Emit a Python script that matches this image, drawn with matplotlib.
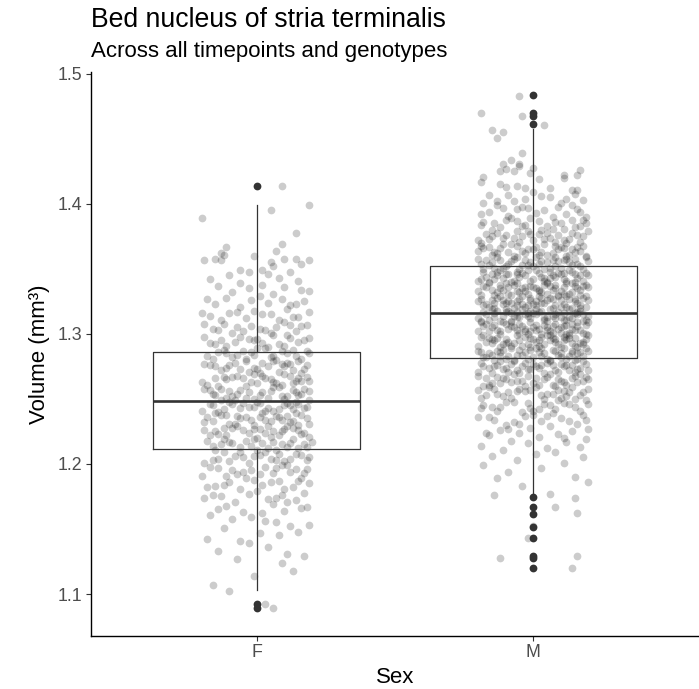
import matplotlib.pyplot as plt
import numpy as np

plt.rcParams['font.family'] = ['Liberation Sans', 'DejaVu Sans']

sexes = ['F', 'M']

# box statistics (mm^3)
q1 = [1.2114, 1.2815]
med = [1.2484, 1.3165]
q3 = [1.2865, 1.3520]
whislo = [1.1027, 1.1765]
whishi = [1.3990, 1.4575]
outliers_f = [1.4141, 1.0923, 1.0894]
outliers_m = [1.4835, 1.4701, 1.4678, 1.4614, 1.1744, 1.1670, 1.1618,
              1.1516, 1.1434, 1.1295, 1.1280, 1.1202]

# jittered points: (x offset in hundredths, volume in thousandths of mm^3)
f_points = [
    (3, 1092), (6, 1089), (-16, 1107), (-10, 1102), (-1, 1114), (13, 1118),
    (9, 1124), (-7, 1127), (17, 1129), (-14, 1133), (4, 1136), (11, 1131), (-3, 1139),
    (-18, 1142), (8, 1145), (15, 1148), (-6, 1141), (1, 1147),
    (-12, 1151), (19, 1153), (3, 1156), (-9, 1158), (12, 1152), (-2, 1159), (7, 1155),
    (-17, 1161), (-5, 1163), (10, 1164), (16, 1166), (-11, 1168), (2, 1162), (6, 1169), (-14, 1165), (18, 1167),
    (-8, 1171), (14, 1172), (-19, 1174), (4, 1173), (9, 1176), (-3, 1177), (17, 1178), (-13, 1175), (0, 1179),
    (11, 1171), (-16, 1176), (7, 1174),
    (-6, 1181), (13, 1182), (-15, 1183), (2, 1184), (19, 1185), (-10, 1186), (8, 1187), (-1, 1188), (16, 1189),
    (-18, 1182), (5, 1186), (-12, 1184), (10, 1181), (-4, 1189), (15, 1187),
    (-20, 1191), (-7, 1192), (6, 1193), (12, 1194), (-2, 1195), (18, 1196), (-14, 1197), (3, 1198), (9, 1199),
    (-11, 1191), (-5, 1194), (14, 1196), (1, 1192), (-17, 1198), (7, 1197), (-9, 1195), (17, 1193), (11, 1199),
    (-3, 1201), (10, 1202), (-16, 1203), (5, 1204), (19, 1205), (-8, 1206), (1, 1207), (14, 1208), (-12, 1209),
    (-19, 1201), (7, 1203), (-5, 1205), (16, 1207), (3, 1209), (-10, 1202), (12, 1204), (-1, 1206), (8, 1208),
    (-14, 1204), (18, 1203), (-6, 1209),
    (-15, 1211), (4, 1212), (11, 1213), (-2, 1214), (17, 1215), (-9, 1216), (6, 1217), (-18, 1218), (13, 1219),
    (0, 1211), (-6, 1213), (9, 1215), (20, 1217), (-12, 1219), (2, 1216), (15, 1212), (-4, 1218), (-16, 1214),
    (7, 1211), (-10, 1217), (12, 1216), (-1, 1219), (18, 1213), (-13, 1215),
    (5, 1221), (-11, 1222), (16, 1223), (-3, 1224), (9, 1225), (-19, 1226), (1, 1227), (13, 1228), (-7, 1229),
    (19, 1221), (-14, 1223), (6, 1225), (-1, 1227), (11, 1229), (-17, 1222), (3, 1224), (15, 1226), (-9, 1228),
    (8, 1222), (-5, 1226), (17, 1224), (-12, 1228), (0, 1220), (10, 1227), (-15, 1225), (4, 1229),
    (-8, 1231), (12, 1232), (-16, 1233), (3, 1234), (18, 1235), (-4, 1236), (7, 1237), (-13, 1238), (14, 1239),
    (-1, 1230), (-19, 1232), (9, 1234), (1, 1236), (16, 1238), (-10, 1231), (5, 1233), (-6, 1235), (11, 1237),
    (-15, 1239), (19, 1231), (-2, 1234), (8, 1236), (-11, 1238), (13, 1233), (-18, 1236), (2, 1239), (15, 1230),
    (-7, 1237),
    (6, 1241), (-12, 1242), (17, 1243), (-3, 1244), (10, 1245), (-17, 1246), (1, 1247), (14, 1248), (-8, 1249),
    (-20, 1241), (4, 1243), (12, 1245), (-5, 1247), (19, 1249), (-14, 1240), (8, 1242), (-1, 1244), (15, 1246),
    (-10, 1248), (3, 1241), (-16, 1245), (11, 1247), (-6, 1243), (18, 1244), (-9, 1246), (0, 1248), (13, 1242),
    (-13, 1249),
    (-4, 1251), (9, 1252), (-15, 1253), (16, 1254), (2, 1255), (-10, 1256), (13, 1257), (-19, 1258), (6, 1259),
    (-1, 1250), (11, 1252), (-7, 1254), (19, 1256), (-13, 1258), (4, 1251), (15, 1253), (-3, 1255), (-17, 1257),
    (8, 1259), (1, 1253), (-11, 1251), (14, 1255), (-6, 1257), (10, 1250), (-16, 1254), (17, 1258), (-9, 1252),
    (5, 1256),
    (-18, 1261), (7, 1262), (-2, 1263), (14, 1264), (-11, 1265), (3, 1266), (18, 1267), (-7, 1268), (10, 1269),
    (-14, 1260), (0, 1262), (16, 1264), (-5, 1266), (12, 1268), (-20, 1263), (5, 1265), (-9, 1267), (9, 1261),
    (-1, 1269), (19, 1264), (-15, 1266), (2, 1268), (13, 1262), (-12, 1267), (6, 1263), (-4, 1260), (15, 1266),
    (8, 1271), (-13, 1272), (17, 1273), (-1, 1274), (4, 1275), (-17, 1276), (12, 1277), (-8, 1278), (15, 1279),
    (1, 1270), (-6, 1273), (10, 1275), (-19, 1277), (6, 1279), (-3, 1271), (18, 1276), (-11, 1274), (2, 1278),
    (13, 1272), (-15, 1275), (9, 1277), (-4, 1279), (16, 1270), (-10, 1276), (0, 1273), (11, 1278),
    (-16, 1281), (5, 1282), (14, 1283), (-7, 1284), (19, 1285), (-2, 1286), (9, 1287), (-12, 1288), (3, 1289),
    (-18, 1283), (11, 1285), (-5, 1287), (16, 1281), (0, 1289), (-14, 1286), (7, 1280), (-9, 1282), (13, 1288),
    (-1, 1284), (18, 1287), (-11, 1285), (6, 1283), (-4, 1281),
    (10, 1291), (-15, 1292), (2, 1293), (-8, 1294), (17, 1295), (-3, 1296), (12, 1297), (-19, 1298), (6, 1299),
    (-11, 1291), (15, 1294), (0, 1296), (-6, 1298), (8, 1292), (-13, 1295), (19, 1297), (4, 1290), (-17, 1293),
    (11, 1299), (-1, 1295),
    (-9, 1301), (14, 1302), (3, 1303), (-16, 1304), (7, 1305), (-2, 1306), (18, 1307), (-12, 1308), (10, 1309),
    (-5, 1302), (1, 1304), (16, 1306), (-19, 1308), (5, 1301), (-7, 1305), (12, 1307), (-14, 1303),
    (8, 1311), (-4, 1312), (15, 1313), (-17, 1314), (2, 1315), (-10, 1316), (19, 1317), (-1, 1318), (11, 1319),
    (-13, 1311), (5, 1315), (-7, 1317), (13, 1313), (-20, 1316),
    (-6, 1321), (12, 1322), (-15, 1323), (4, 1324), (17, 1325), (-2, 1326), (9, 1327), (-11, 1328), (1, 1329),
    (14, 1323), (-18, 1327),
    (6, 1331), (-9, 1332), (16, 1334), (-3, 1335), (10, 1336), (-14, 1337), (2, 1338), (19, 1333), (-6, 1339),
    (-6, 1349), (-3, 1348), (2, 1349), (12, 1348), (-17, 1342), (8, 1343), (-10, 1345), (15, 1341), (4, 1346),
    (-15, 1358), (-19, 1357), (-13, 1357), (-1, 1360), (5, 1355), (6, 1352), (10, 1358), (14, 1358), (19, 1357),
    (16, 1354),
    (-11, 1367), (9, 1369), (7, 1364), (-13, 1362), (-12, 1361),
    (14, 1378), (-20, 1389), (5, 1395), (19, 1399), (9, 1414),
]

m_points = [
    (14, 1120), (-12, 1128), (16, 1129), (-2, 1143), (0, 1152), (16, 1162), (8, 1167),
    (15, 1174), (-14, 1176), (6, 1177), (20, 1186), (-13, 1189), (-4, 1183),
    (15, 1190), (-9, 1194), (3, 1197), (-18, 1199),
    (11, 1201), (-6, 1203), (18, 1205), (-15, 1206), (1, 1208), (8, 1209),
    (-11, 1211), (5, 1212), (17, 1213), (-19, 1214), (-2, 1216), (12, 1217), (-8, 1218), (19, 1219),
    (2, 1221), (-16, 1222), (9, 1223), (-5, 1224), (14, 1225), (-12, 1226), (20, 1227), (-1, 1228), (6, 1229),
    (-17, 1224), (11, 1220), (-9, 1227),
    (16, 1231), (-7, 1232), (3, 1233), (-14, 1234), (10, 1235), (-20, 1236), (-3, 1237), (18, 1238), (7, 1239),
    (-10, 1230), (13, 1233), (-16, 1236), (0, 1238), (19, 1234), (-5, 1231), (5, 1237),
    (-13, 1241), (8, 1242), (-1, 1243), (15, 1244), (-18, 1245), (4, 1246), (11, 1247), (-7, 1248), (19, 1249),
    (-4, 1240), (2, 1242), (-15, 1244), (13, 1246), (-10, 1248), (17, 1241), (-19, 1243), (6, 1245), (-2, 1247),
    (9, 1249), (-12, 1244), (20, 1246), (0, 1241),
    (-8, 1251), (12, 1252), (-17, 1253), (5, 1254), (18, 1255), (-3, 1256), (9, 1257), (-14, 1258), (1, 1259),
    (15, 1250), (-11, 1252), (7, 1254), (-6, 1256), (20, 1258), (-19, 1251), (3, 1253), (13, 1255), (-1, 1257),
    (-16, 1259), (10, 1251), (-9, 1255), (17, 1253), (-5, 1258), (4, 1250), (-13, 1254), (11, 1256), (-20, 1257),
    (14, 1259),
    (2, 1261), (-15, 1262), (16, 1263), (-6, 1264), (9, 1265), (-11, 1266), (19, 1267), (-2, 1268), (6, 1269),
    (-18, 1260), (12, 1261), (-8, 1263), (4, 1265), (-13, 1267), (17, 1269), (0, 1262), (-4, 1264), (14, 1266),
    (-20, 1268), (8, 1260), (-10, 1265), (11, 1263), (-16, 1261), (5, 1267), (18, 1264), (-7, 1269), (1, 1266),
    (-12, 1262), (15, 1268), (-3, 1260), (10, 1264), (-17, 1266), (7, 1261), (20, 1265),
    (-9, 1271), (13, 1272), (-1, 1273), (17, 1274), (-14, 1275), (3, 1276), (10, 1277), (-19, 1278), (6, 1279),
    (-5, 1270), (15, 1271), (-11, 1273), (1, 1275), (19, 1277), (-7, 1279), (8, 1272), (-16, 1274), (12, 1276),
    (-3, 1278), (4, 1270), (-13, 1276), (16, 1273), (-20, 1271), (0, 1277), (11, 1275), (-6, 1272), (18, 1279),
    (-10, 1274), (5, 1278), (-15, 1270), (14, 1276), (-2, 1273), (9, 1271), (-18, 1275), (20, 1272), (-8, 1277),
    (2, 1274), (-12, 1279), (7, 1276), (-4, 1275),
    (12, 1281), (-17, 1282), (3, 1283), (-6, 1284), (16, 1285), (-12, 1286), (8, 1287), (-1, 1288), (19, 1289),
    (-14, 1280), (5, 1281), (-9, 1283), (14, 1285), (-20, 1287), (1, 1289), (10, 1282), (-4, 1284), (17, 1286),
    (-11, 1288), (6, 1280), (-16, 1285), (13, 1283), (-2, 1281), (20, 1287), (-8, 1289), (2, 1286), (-18, 1282),
    (9, 1284), (-5, 1288), (15, 1280), (-13, 1287), (4, 1285), (11, 1289), (-10, 1281), (18, 1283), (-3, 1286),
    (7, 1288), (-15, 1284), (0, 1282), (14, 1287), (-7, 1280), (-19, 1286), (10, 1285), (3, 1289), (-12, 1283),
    (16, 1281),
    (-4, 1291), (9, 1292), (-15, 1293), (18, 1294), (2, 1295), (-10, 1296), (13, 1297), (-19, 1298), (6, 1299),
    (-1, 1290), (15, 1291), (-7, 1293), (11, 1295), (-13, 1297), (20, 1299), (4, 1292), (-17, 1294), (8, 1296),
    (-3, 1298), (16, 1290), (-11, 1292), (1, 1294), (12, 1296), (-20, 1291), (7, 1297), (-6, 1299), (17, 1293),
    (-14, 1295), (3, 1298), (10, 1290), (-9, 1294), (19, 1296), (-2, 1292), (5, 1299), (-16, 1297), (14, 1293),
    (-8, 1291), (0, 1296), (11, 1298), (-12, 1290), (18, 1292), (-5, 1295), (8, 1294), (-18, 1299), (2, 1291),
    (15, 1297), (-10, 1293), (6, 1295), (-1, 1297), (13, 1299), (-15, 1296),
    (7, 1301), (-12, 1302), (17, 1303), (-3, 1304), (10, 1305), (-18, 1306), (1, 1307), (14, 1308), (-8, 1309),
    (19, 1300), (-5, 1301), (5, 1303), (-15, 1305), (12, 1307), (-1, 1309), (-20, 1302), (9, 1304), (16, 1306),
    (-10, 1308), (3, 1300), (-6, 1303), (13, 1301), (-14, 1307), (0, 1305), (20, 1309), (-9, 1304), (6, 1302),
    (-17, 1308), (11, 1306), (-2, 1300), (15, 1303), (-11, 1309), (4, 1307), (18, 1301), (-7, 1305), (8, 1308),
    (-16, 1302), (2, 1304), (-4, 1306), (12, 1300), (-13, 1303), (19, 1307), (-19, 1309), (5, 1305), (-1, 1302),
    (10, 1301), (-8, 1306), (14, 1304), (-5, 1308), (1, 1303), (16, 1309), (-12, 1300), (7, 1306), (-3, 1302),
    (-16, 1311), (4, 1312), (13, 1313), (-7, 1314), (18, 1315), (-2, 1316), (9, 1317), (-13, 1318), (1, 1319),
    (-19, 1310), (11, 1311), (-5, 1313), (16, 1315), (-10, 1317), (6, 1319), (-1, 1312), (20, 1314), (-14, 1316),
    (3, 1318), (-8, 1310), (14, 1312), (-18, 1317), (8, 1315), (-4, 1319), (12, 1311), (-11, 1314), (0, 1316),
    (17, 1318), (-6, 1313), (5, 1310), (-15, 1319), (10, 1313), (-3, 1315), (19, 1311), (-9, 1318), (2, 1317),
    (-20, 1312), (15, 1316), (-12, 1310), (7, 1314), (-1, 1318), (13, 1319), (-17, 1315), (4, 1311), (-6, 1317),
    (11, 1316), (-14, 1313), (18, 1310), (-2, 1314), (8, 1312), (-10, 1319), (1, 1315), (16, 1317), (-8, 1316),
    (5, 1313),
    (10, 1321), (-6, 1322), (-17, 1323), (3, 1324), (15, 1325), (-11, 1326), (7, 1327), (-1, 1328), (19, 1329),
    (-14, 1320), (12, 1321), (-4, 1323), (1, 1325), (-19, 1327), (9, 1329), (17, 1322), (-8, 1324), (5, 1326),
    (-13, 1328), (14, 1320), (-2, 1322), (20, 1326), (-10, 1324), (6, 1328), (-16, 1321), (11, 1323), (-5, 1327),
    (2, 1329), (-20, 1325), (16, 1324), (-7, 1320), (8, 1322), (-12, 1329), (13, 1327), (0, 1323), (-15, 1326),
    (18, 1328), (-3, 1321), (4, 1324), (-9, 1325), (12, 1329), (-18, 1322), (7, 1320), (-1, 1326), (15, 1327),
    (-11, 1323), (3, 1328), (-6, 1325), (19, 1321), (-14, 1324), (10, 1326), (-4, 1329), (1, 1322), (17, 1320),
    (-9, 1331), (14, 1332), (2, 1333), (-15, 1334), (8, 1335), (-3, 1336), (18, 1337), (-12, 1338), (5, 1339),
    (-19, 1330), (11, 1331), (-6, 1333), (16, 1335), (-1, 1337), (-16, 1339), (9, 1330), (3, 1332), (-11, 1334),
    (20, 1336), (-7, 1338), (13, 1331), (-20, 1333), (6, 1337), (-4, 1335), (12, 1339), (-13, 1332), (0, 1336),
    (17, 1334), (-8, 1330), (4, 1338), (-17, 1336), (10, 1333), (-2, 1331), (15, 1337), (-10, 1339), (7, 1334),
    (-14, 1330), (19, 1338), (1, 1335), (-5, 1332), (11, 1336), (-18, 1337), (14, 1339), (-3, 1333), (5, 1331),
    (-12, 1335), (8, 1338), (-9, 1336), (17, 1330), (2, 1334), (-6, 1339),
    (12, 1341), (-14, 1342), (4, 1343), (-5, 1344), (17, 1345), (-10, 1346), (9, 1347), (-18, 1348), (1, 1349),
    (15, 1340), (-7, 1341), (6, 1343), (-13, 1345), (19, 1347), (-2, 1349), (-16, 1340), (11, 1342), (3, 1344),
    (-9, 1346), (14, 1348), (-20, 1341), (7, 1345), (-4, 1347), (16, 1343), (-12, 1349), (0, 1342), (10, 1346),
    (-17, 1344), (5, 1340), (-6, 1348), (18, 1341), (-11, 1343), (2, 1347), (13, 1349), (-15, 1346), (8, 1344),
    (-1, 1341), (20, 1345), (-8, 1340), (6, 1348), (-19, 1342), (11, 1347), (-3, 1345), (15, 1346), (-13, 1348),
    (4, 1341), (-6, 1346),
    (-11, 1351), (8, 1352), (-2, 1353), (16, 1354), (-15, 1355), (3, 1356), (11, 1357), (-7, 1358), (19, 1359),
    (-18, 1350), (6, 1351), (-4, 1353), (13, 1355), (-12, 1357), (1, 1359), (17, 1352), (-9, 1354), (9, 1356),
    (-20, 1358), (4, 1350), (-1, 1355), (14, 1353), (-14, 1351), (7, 1357), (-6, 1359), (20, 1356), (-16, 1353),
    (2, 1354), (12, 1358), (-10, 1352), (5, 1355), (-3, 1357), (18, 1350), (-13, 1359), (10, 1351), (-8, 1356),
    (15, 1358), (-19, 1354), (0, 1352), (-5, 1350), (8, 1359), (-17, 1357),
    (5, 1361), (-13, 1362), (15, 1363), (-4, 1364), (9, 1365), (-18, 1366), (1, 1367), (18, 1368), (-8, 1369),
    (12, 1360), (-15, 1361), (3, 1363), (-2, 1365), (16, 1367), (-11, 1369), (7, 1362), (-20, 1364), (11, 1366),
    (-6, 1368), (19, 1360), (-9, 1363), (0, 1365), (13, 1361), (-16, 1367), (4, 1369), (-3, 1362), (17, 1364),
    (-12, 1366), (8, 1368), (-7, 1360), (14, 1365), (-19, 1368), (2, 1361), (10, 1367), (-14, 1363),
    (-5, 1371), (11, 1372), (-16, 1373), (6, 1374), (18, 1375), (-10, 1376), (2, 1377), (14, 1378), (-2, 1379),
    (-19, 1370), (8, 1371), (-7, 1374), (16, 1376), (-13, 1378), (4, 1373), (20, 1379), (-4, 1375), (12, 1370),
    (-17, 1377), (0, 1372), (9, 1376), (-11, 1374), (17, 1371), (-6, 1379), (5, 1378), (-15, 1375), (13, 1373),
    (-1, 1377), (-20, 1372),
    (7, 1381), (-12, 1382), (17, 1383), (-3, 1384), (10, 1385), (-18, 1386), (2, 1387), (14, 1388), (-8, 1389),
    (-15, 1380), (5, 1383), (19, 1385), (-6, 1387), (11, 1381), (-1, 1389), (-19, 1384), (8, 1386), (15, 1382),
    (-10, 1388), (3, 1380), (-14, 1385), (18, 1388), (-4, 1383),
    (-9, 1391), (12, 1392), (-16, 1394), (4, 1395), (16, 1396), (-2, 1397), (9, 1398), (-13, 1399), (19, 1390),
    (1, 1393), (-6, 1396), (14, 1399), (-19, 1392), (7, 1390), (-11, 1397), (17, 1394), (-4, 1398),
    (-16, 1407), (-9, 1407), (3, 1406), (10, 1401), (-13, 1402), (18, 1403), (-3, 1404), (6, 1405), (15, 1408),
    (-18, 1401), (0, 1409), (12, 1404), (-7, 1402),
    (-19, 1417), (-12, 1415), (-10, 1413), (-6, 1414), (-3, 1412), (2, 1419), (6, 1412), (14, 1411), (16, 1411),
    (11, 1420),
    (-10, 1427), (-12, 1425), (-7, 1425), (0, 1428), (-1, 1424), (-18, 1421), (11, 1422), (16, 1422), (17, 1426),
    (-5, 1429),
    (-4, 1439), (-8, 1434), (-11, 1431), (-5, 1431),
    (-13, 1451), (-11, 1455), (-15, 1457),
    (4, 1461), (-4, 1468), (-19, 1470), (-5, 1483),
]

line_col = '#333333'

fig = plt.figure(figsize=(6.99, 6.89), dpi=100)
ax = fig.add_axes([91 / 699, 53 / 689, 608 / 699, 564 / 689])

# jittered raw points
for i, pts in enumerate([f_points, m_points]):
    arr = np.array(pts, dtype=float)
    ax.scatter(i + 1 + arr[:, 0] / 100, arr[:, 1] / 1000, s=31, color='black',
               alpha=0.2, linewidths=0, zorder=1)

# boxplots from the read-off statistics
stats = []
for i, fl in enumerate([outliers_f, outliers_m]):
    stats.append(dict(q1=q1[i], med=med[i], q3=q3[i], whislo=whislo[i],
                      whishi=whishi[i], fliers=fl, label=sexes[i]))
ax.bxp(stats, positions=[1, 2], widths=0.75, showcaps=False,
       boxprops=dict(color=line_col, linewidth=0.9),
       whiskerprops=dict(color=line_col, linewidth=0.9),
       medianprops=dict(color=line_col, linewidth=1.9),
       flierprops=dict(marker='o', markerfacecolor=line_col, markeredgecolor='none',
                       markersize=5.6),
       zorder=2)

ax.set_xlim(0.4, 2.6)
ax.set_ylim(1.0677, 1.5015)
ax.set_xticks([1, 2])
ax.set_xticklabels(sexes)
ax.set_yticks([1.1, 1.2, 1.3, 1.4, 1.5])
ax.set_yticklabels(['1.1', '1.2', '1.3', '1.4', '1.5'])

for s in ['top', 'right']:
    ax.spines[s].set_visible(False)
for s in ['left', 'bottom']:
    ax.spines[s].set_linewidth(1.0)
    ax.spines[s].set_color('black')
ax.tick_params(length=3.6, width=0.8, color=line_col, labelcolor='#4D4D4D',
               labelsize=12.8, pad=2.5)

ax.set_ylabel('Volume (mm³)', fontsize=16, labelpad=6)
ax.set_xlabel('Sex', fontsize=16, labelpad=4)

fig.text(91 / 699, 1 - 27 / 689, 'Bed nucleus of stria terminalis', fontsize=19.2,
         va='baseline', ha='left')
fig.text(91 / 699, 1 - 57 / 689, 'Across all timepoints and genotypes', fontsize=16,
         va='baseline', ha='left')

fig.savefig('out.png', dpi=100)
